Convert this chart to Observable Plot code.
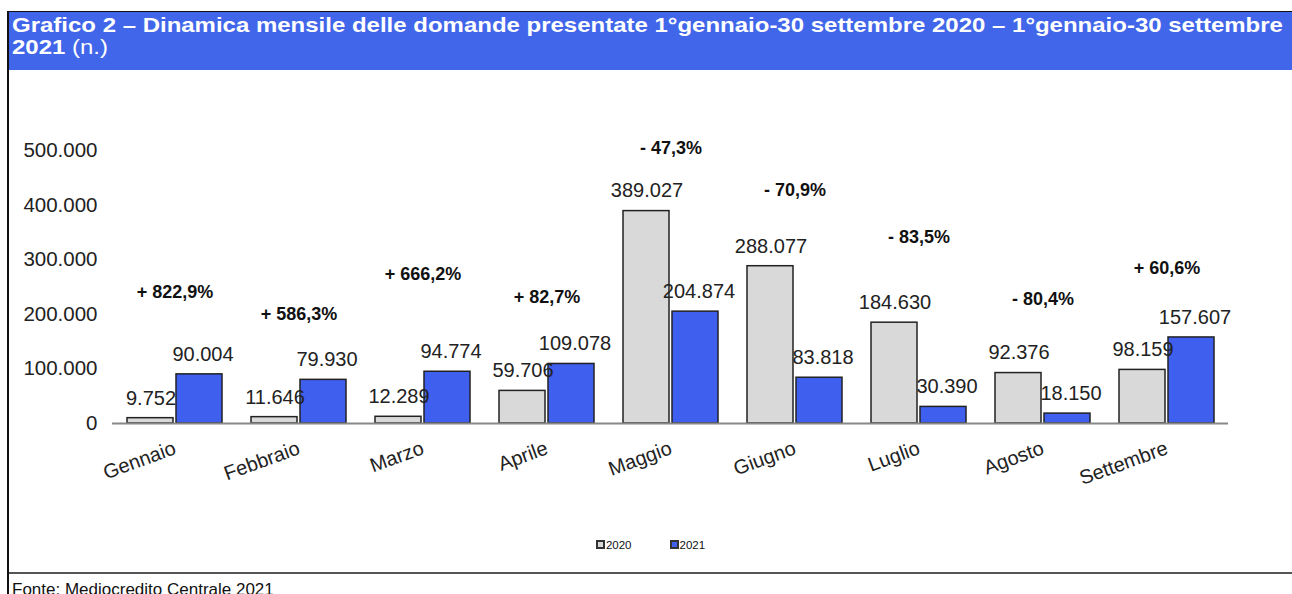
<!DOCTYPE html>
<html>
<head>
<meta charset="utf-8">
<script src="https://cdn.jsdelivr.net/npm/d3@7"></script>
<script src="https://cdn.jsdelivr.net/npm/@observablehq/plot@0.6"></script>
<style>
  html, body { margin: 0; padding: 0; background: #fff; overflow: hidden; }
  body { width: 1292px; height: 594px; position: relative; font-family: "Liberation Sans", Arial, sans-serif; }
  #frame { position: absolute; left: 7px; top: 11px; width: 1300px; height: 600px; border-left: 2px solid #111; border-top: 1px solid #111; }
  #title { height: 58px; background: #4166ea; color: #fff; font-weight: bold; font-size: 20.5px; line-height: 22px; padding: 2px 0 0 3px; box-sizing: border-box; white-space: nowrap; overflow: hidden; }
  #title .l1, #title .l2 { transform: scaleX(1.17); transform-origin: 0 0; }
  #title .l2 span { font-weight: normal; }
  #chart { position: absolute; left: 0; top: 59px; }
  #legend { position: absolute; top: 527px; left: 0; width: 1283px; text-align: center; font-size: 11.5px; color: #111; }
  #legend .item { display: inline-block; margin: 0 19px; }
  #legend .sw { display: inline-block; width: 5px; height: 5px; border: 2px solid #333; vertical-align: 0px; margin-right: 1px; }
  #sep { position: absolute; left: 0; top: 560px; width: 1300px; border-top: 2px solid #555; }
  #source { position: absolute; left: 3px; top: 568px; font-size: 17px; color: #111; }
</style>
</head>
<body>
<div id="frame">
  <div id="title"><div class="l1">Grafico 2 – Dinamica mensile delle domande presentate 1°gennaio-30 settembre 2020 – 1°gennaio-30 settembre</div><div class="l2">2021 <span>(n.)</span></div></div>
  <div id="chart"></div>
  <div id="legend"></div>
  <div id="sep"></div>
  <div id="source">Fonte: Mediocredito Centrale 2021</div>
</div>
<script>
const months = ["Gennaio","Febbraio","Marzo","Aprile","Maggio","Giugno","Luglio","Agosto","Settembre"];
const values2020 = [9752, 11646, 12289, 59706, 389027, 288077, 184630, 92376, 98159];
const values2021 = [90004, 79930, 94774, 109078, 204874, 83818, 30390, 18150, 157607];
const changeLabels = ["+ 822,9%","+ 586,3%","+ 666,2%","+ 82,7%","- 47,3%","- 70,9%","- 83,5%","- 80,4%","+ 60,6%"];
const changeLevels = [240000, 200000, 273000, 232000, 505000, 427000, 342000, 227000, 284000];
const yTicks = [0, 100000, 200000, 300000, 400000, 500000];
const years = ["2020", "2021"];
const colors = ["#d9d9d9", "#3f5fee"];

const it = d3.formatLocale({decimal: ",", thousands: ".", grouping: [3], currency: ["", "€"]});
const fmt = it.format(",d");

const rows2020 = months.map((m, i) => ({month: m, value: values2020[i]}));
const rows2021 = months.map((m, i) => ({month: m, value: values2021[i]}));
const changes = months.map((m, i) => ({month: m, label: changeLabels[i], level: changeLevels[i]}));

const chart = Plot.plot({
  width: 1283,
  height: 460,
  marginLeft: 103,
  marginRight: 64,
  marginTop: 79,
  marginBottom: 108,
  style: {fontFamily: "'Liberation Sans', Arial, sans-serif", fontSize: "20px", color: "#111", background: "transparent"},
  x: {domain: months, paddingInner: 0.234, paddingOuter: 0.117, label: null},
  y: {domain: [0, 500000], label: null},
  marks: [
    Plot.axisY({ticks: yTicks, tickFormat: fmt, tickSize: 0, tickPadding: 15, fontSize: 20.5, label: null, fill: "#222"}),
    Plot.axisX({tickSize: 0, tickPadding: 24, tickRotate: -20, fontSize: 20, label: null, fill: "#222"}),
    Plot.barY(rows2020, {x: "month", y: "value", fill: colors[0], stroke: "#222", strokeWidth: 1.5, insetRight: 49}),
    Plot.barY(rows2021, {x: "month", y: "value", fill: colors[1], stroke: "#222", strokeWidth: 1.5, insetLeft: 49}),
    Plot.ruleY([0], {stroke: "#888", strokeWidth: 2}),
    Plot.text(rows2020, {x: "month", y: "value", text: d => fmt(d.value), dx: -24, dy: -20, fontSize: 20, fill: "#222"}),
    Plot.text(rows2021, {x: "month", y: "value", text: d => fmt(d.value), dx: 28, dy: -20, fontSize: 20, fill: "#222"}),
    Plot.text(changes, {x: "month", y: "level", text: "label", fontSize: 18, fontWeight: "bold", fill: "#111"})
  ]
});
document.getElementById("chart").appendChild(chart);

const legend = document.getElementById("legend");
years.forEach((y, i) => {
  const item = document.createElement("span");
  item.className = "item";
  const sw = document.createElement("span");
  sw.className = "sw";
  sw.style.background = colors[i];
  item.appendChild(sw);
  item.appendChild(document.createTextNode(y));
  legend.appendChild(item);
});
</script>
</body>
</html>
